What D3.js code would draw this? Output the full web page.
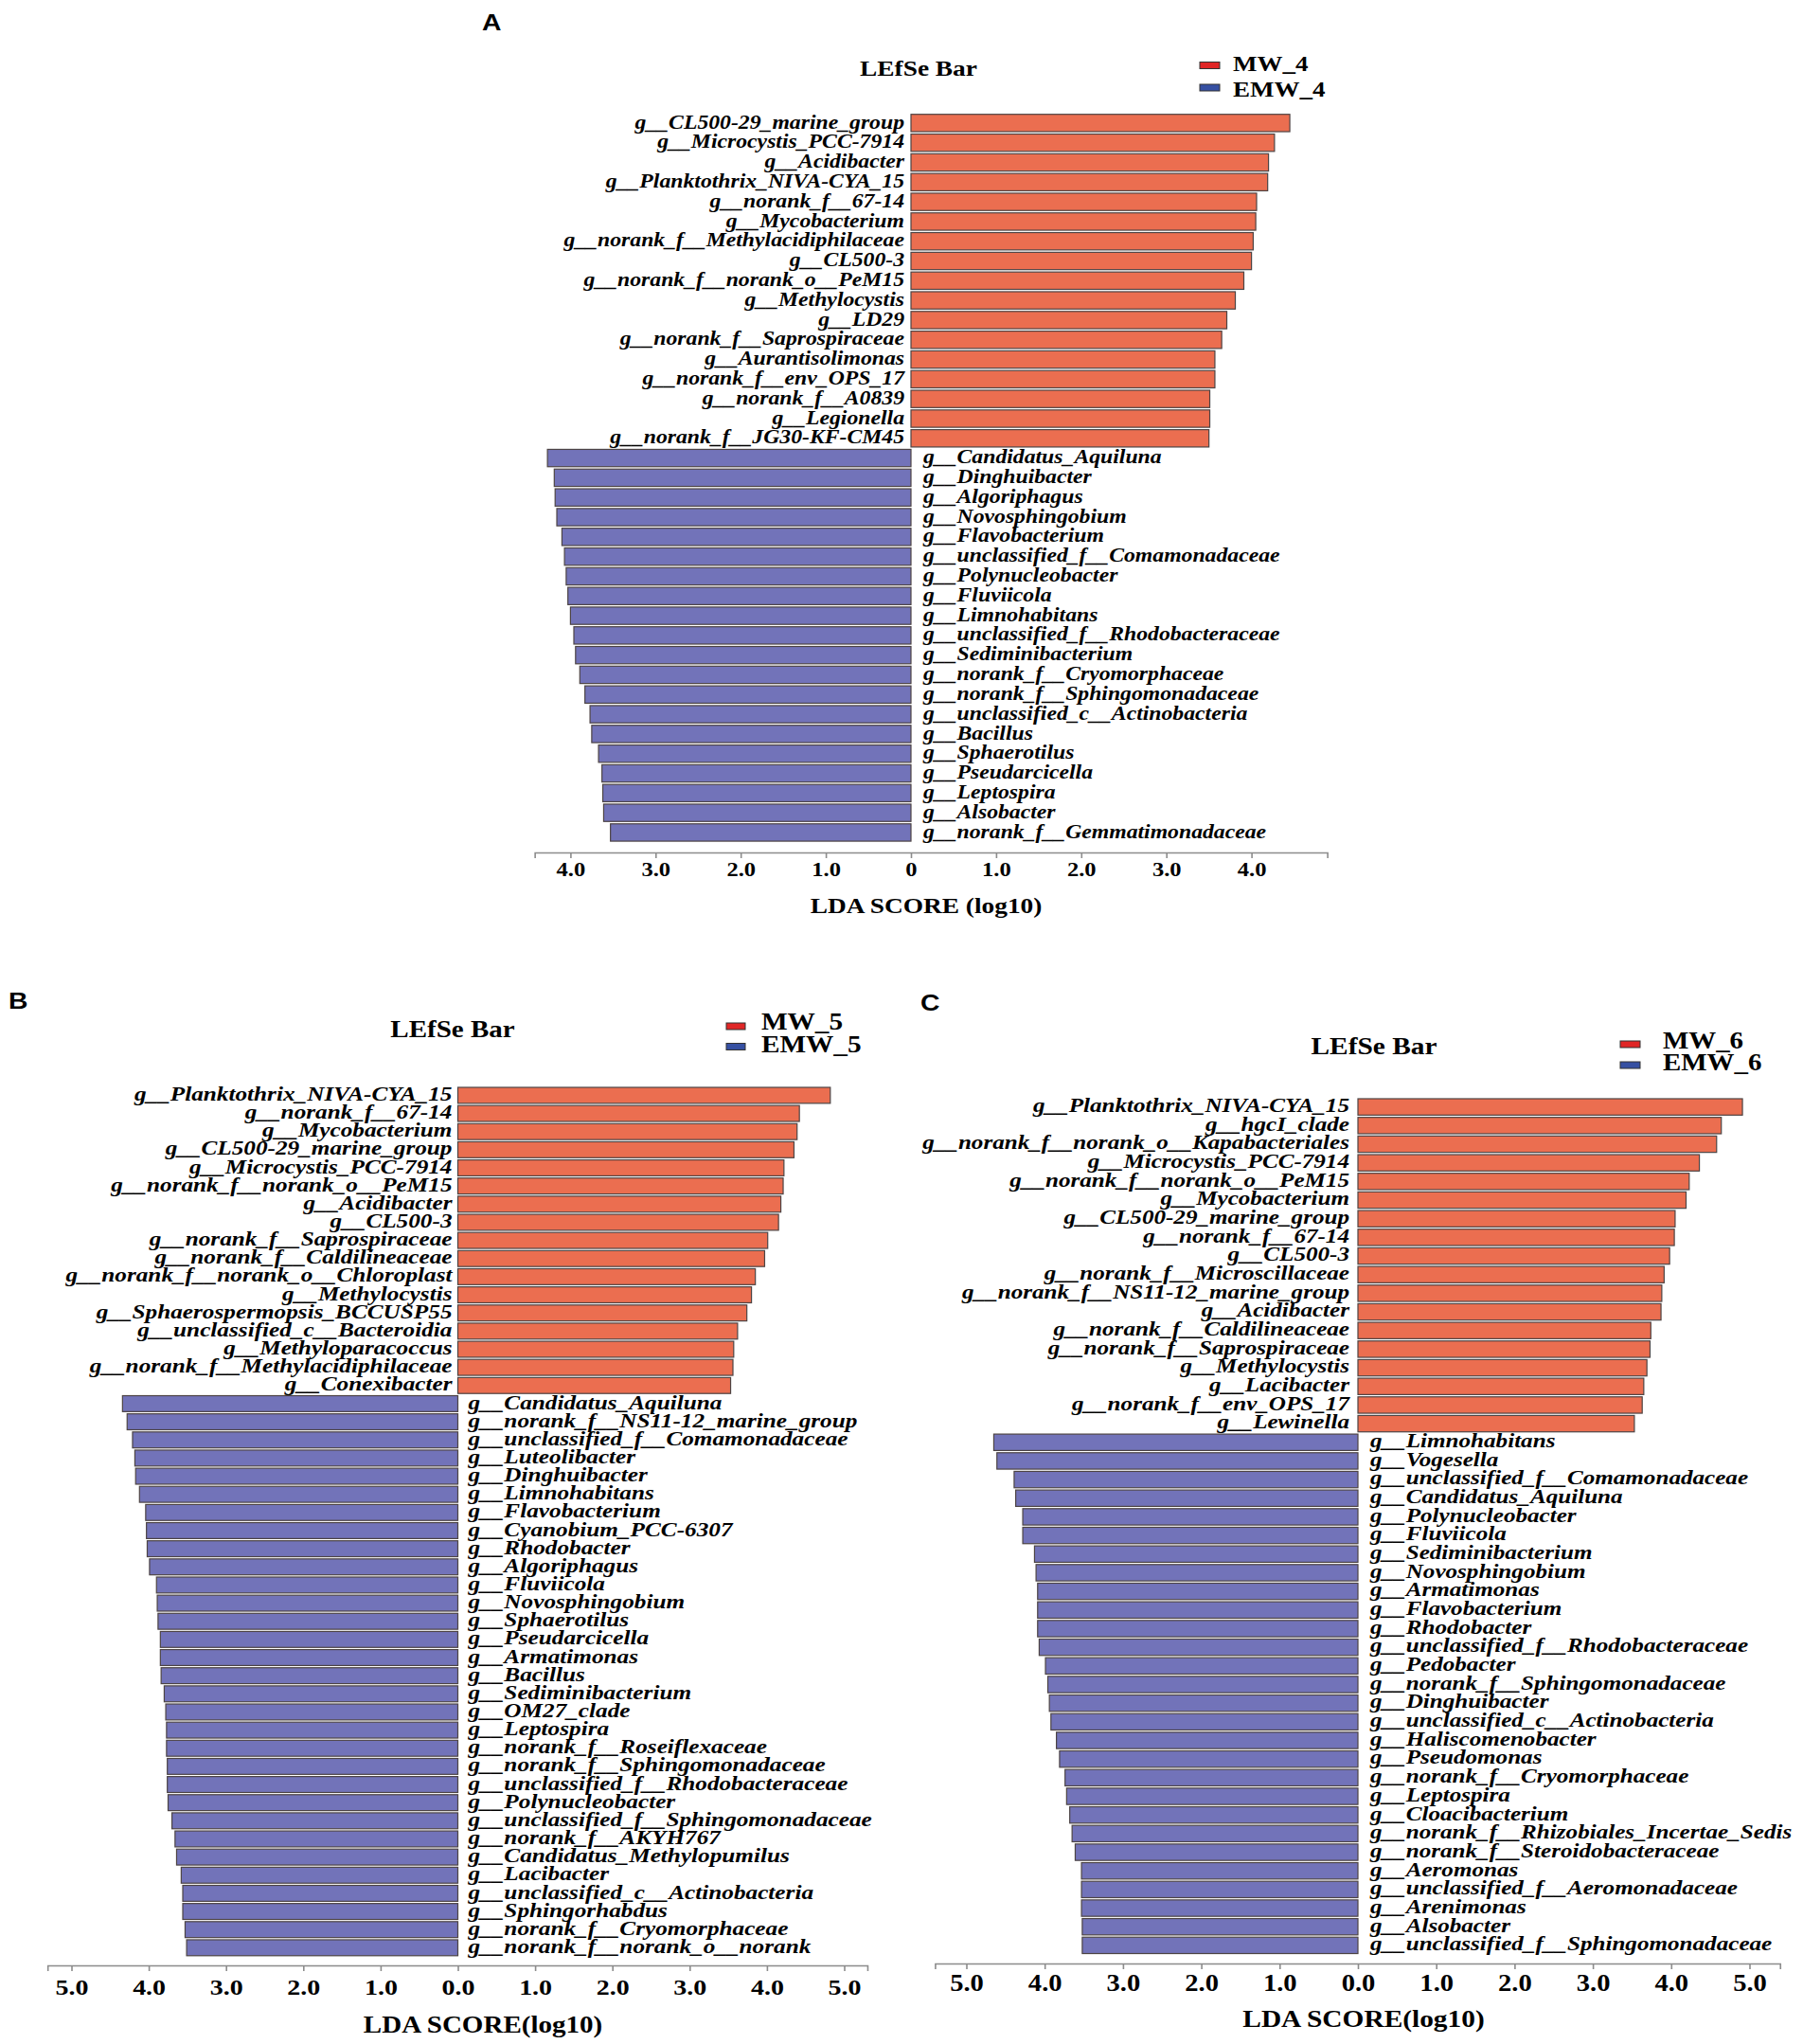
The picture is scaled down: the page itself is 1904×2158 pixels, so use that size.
<!DOCTYPE html>
<html>
<head>
<meta charset="utf-8">
<script src="https://cdn.jsdelivr.net/npm/d3@7"></script>
<style>
  body { margin: 0; background: #fff; }
  svg { display: block; }
</style>
</head>
<body>
<div id="chart"></div>
<script>
// ---- data: LDA scores ----
var aMwTaxa = ["g__CL500-29_marine_group", "g__Microcystis_PCC-7914", "g__Acidibacter", "g__Planktothrix_NIVA-CYA_15",
  "g__norank_f__67-14", "g__Mycobacterium", "g__norank_f__Methylacidiphilaceae", "g__CL500-3",
  "g__norank_f__norank_o__PeM15", "g__Methylocystis", "g__LD29", "g__norank_f__Saprospiraceae",
  "g__Aurantisolimonas", "g__norank_f__env_OPS_17", "g__norank_f__A0839", "g__Legionella", "g__norank_f__JG30-KF-CM45"]
var aMwLda = [4.45, 4.27, 4.20, 4.19, 4.06, 4.05, 4.02, 4.00, 3.91, 3.81, 3.71, 3.65, 3.57, 3.57, 3.51, 3.51, 3.50]
var aEmwTaxa = ["g__Candidatus_Aquiluna", "g__Dinghuibacter", "g__Algoriphagus", "g__Novosphingobium", "g__Flavobacterium",
  "g__unclassified_f__Comamonadaceae", "g__Polynucleobacter", "g__Fluviicola", "g__Limnohabitans",
  "g__unclassified_f__Rhodobacteraceae", "g__Sediminibacterium", "g__norank_f__Cryomorphaceae",
  "g__norank_f__Sphingomonadaceae", "g__unclassified_c__Actinobacteria", "g__Bacillus", "g__Sphaerotilus",
  "g__Pseudarcicella", "g__Leptospira", "g__Alsobacter", "g__norank_f__Gemmatimonadaceae"]
var aEmwLda = [4.27, 4.19, 4.18, 4.16, 4.10, 4.07, 4.05, 4.03, 4.00, 3.96, 3.94, 3.89, 3.83, 3.77, 3.75, 3.67, 3.63, 3.62, 3.61, 3.53]

var bMwTaxa = ["g__Planktothrix_NIVA-CYA_15", "g__norank_f__67-14", "g__Mycobacterium", "g__CL500-29_marine_group",
  "g__Microcystis_PCC-7914", "g__norank_f__norank_o__PeM15", "g__Acidibacter", "g__CL500-3",
  "g__norank_f__Saprospiraceae", "g__norank_f__Caldilineaceae", "g__norank_f__norank_o__Chloroplast",
  "g__Methylocystis", "g__Sphaerospermopsis_BCCUSP55", "g__unclassified_c__Bacteroidia",
  "g__Methyloparacoccus", "g__norank_f__Methylacidiphilaceae", "g__Conexibacter"]
var bMwLda = [4.82, 4.42, 4.39, 4.35, 4.22, 4.21, 4.18, 4.15, 4.01, 3.97, 3.85, 3.80, 3.74, 3.62, 3.57, 3.56, 3.53]
var bEmwTaxa = ["g__Candidatus_Aquiluna", "g__norank_f__NS11-12_marine_group", "g__unclassified_f__Comamonadaceae",
  "g__Luteolibacter", "g__Dinghuibacter", "g__Limnohabitans", "g__Flavobacterium", "g__Cyanobium_PCC-6307",
  "g__Rhodobacter", "g__Algoriphagus", "g__Fluviicola", "g__Novosphingobium", "g__Sphaerotilus",
  "g__Pseudarcicella", "g__Armatimonas", "g__Bacillus", "g__Sediminibacterium", "g__OM27_clade",
  "g__Leptospira", "g__norank_f__Roseiflexaceae", "g__norank_f__Sphingomonadaceae",
  "g__unclassified_f__Rhodobacteraceae", "g__Polynucleobacter", "g__unclassified_f__Sphingomonadaceae",
  "g__norank_f__AKYH767", "g__Candidatus_Methylopumilus", "g__Lacibacter", "g__unclassified_c__Actinobacteria",
  "g__Sphingorhabdus", "g__norank_f__Cryomorphaceae", "g__norank_f__norank_o__norank"]
var bEmwLda = [4.34, 4.28, 4.21, 4.18, 4.17, 4.12, 4.04, 4.03, 4.02, 3.99, 3.90, 3.89, 3.88, 3.85, 3.85, 3.84,
  3.80, 3.78, 3.77, 3.77, 3.76, 3.76, 3.75, 3.70, 3.66, 3.64, 3.58, 3.56, 3.56, 3.53, 3.51]

var cMwTaxa = ["g__Planktothrix_NIVA-CYA_15", "g__hgcI_clade", "g__norank_f__norank_o__Kapabacteriales",
  "g__Microcystis_PCC-7914", "g__norank_f__norank_o__PeM15", "g__Mycobacterium", "g__CL500-29_marine_group",
  "g__norank_f__67-14", "g__CL500-3", "g__norank_f__Microscillaceae", "g__norank_f__NS11-12_marine_group",
  "g__Acidibacter", "g__norank_f__Caldilineaceae", "g__norank_f__Saprospiraceae", "g__Methylocystis",
  "g__Lacibacter", "g__norank_f__env_OPS_17", "g__Lewinella"]
var cMwLda = [4.91, 4.64, 4.58, 4.36, 4.23, 4.19, 4.05, 4.04, 3.98, 3.91, 3.88, 3.87, 3.74, 3.73, 3.69, 3.65, 3.63, 3.53]
var cEmwTaxa = ["g__Limnohabitans", "g__Vogesella", "g__unclassified_f__Comamonadaceae", "g__Candidatus_Aquiluna",
  "g__Polynucleobacter", "g__Fluviicola", "g__Sediminibacterium", "g__Novosphingobium", "g__Armatimonas",
  "g__Flavobacterium", "g__Rhodobacter", "g__unclassified_f__Rhodobacteraceae", "g__Pedobacter",
  "g__norank_f__Sphingomonadaceae", "g__Dinghuibacter", "g__unclassified_c__Actinobacteria",
  "g__Haliscomenobacter", "g__Pseudomonas", "g__norank_f__Cryomorphaceae", "g__Leptospira",
  "g__Cloacibacterium", "g__norank_f__Rhizobiales_Incertae_Sedis", "g__norank_f__Steroidobacteraceae",
  "g__Aeromonas", "g__unclassified_f__Aeromonadaceae", "g__Arenimonas", "g__Alsobacter",
  "g__unclassified_f__Sphingomonadaceae"]
var cEmwLda = [4.65, 4.61, 4.39, 4.37, 4.28, 4.28, 4.13, 4.11, 4.09, 4.09, 4.09, 4.07, 3.99, 3.96, 3.94, 3.92,
  3.85, 3.81, 3.74, 3.72, 3.68, 3.65, 3.61, 3.53, 3.53, 3.53, 3.52, 3.52]

var aTicks = [-4, -3, -2, -1, 0, 1, 2, 3, 4]
var bcTicks = [-5, -4, -3, -2, -1, 0, 1, 2, 3, 4, 5]

var color = { MW: "#eb6e50", EMW: "#7273b9" }
var legendColor = { MW: "#e02626", EMW: "#3650a2" }
var SERIF = "'Liberation Serif', 'Times New Roman', serif"
var SX = 1.18  // the original figure is a bit wider than Times

var W = 1904, H = 2158
var svg = d3.select("#chart").append("svg")
  .attr("width", W)
  .attr("height", H)
  .style("background", "#fff")

// text helper: glyphs widened horizontally like the source
function stext(g, x, y, str, size, opts) {
  opts = opts || {}
  return g.append("text")
    .attr("transform", "translate(" + x + "," + y + ") scale(" + SX + ",1)")
    .attr("text-anchor", opts.anchor || "start")
    .style("font-family", opts.family || SERIF)
    .style("font-weight", "bold")
    .style("font-style", opts.italic ? "italic" : "normal")
    .style("font-size", size + "px")
    .style("fill", "#000")
    .text(str)
}

function drawPanel(cfg, mwTaxa, mwLda, emwTaxa, emwLda, ticks) {
  var g = svg.append("g")

  var rows = []
  mwTaxa.forEach(function (t, i) { rows.push({ name: t, value: mwLda[i], grp: "MW" }) })
  emwTaxa.forEach(function (t, i) { rows.push({ name: t, value: emwLda[i], grp: "EMW" }) })

  var x = d3.scaleLinear()
    .domain([-cfg.axL, cfg.axR])
    .range([cfg.zero - cfg.axL * cfg.unit, cfg.zero + cfg.axR * cfg.unit])

  var y = d3.scaleBand()
    .domain(d3.range(rows.length))
    .range([cfg.top, cfg.top + rows.length * cfg.pitch])
    .paddingInner(0.12)
    .paddingOuter(0)

  // bars: MW to the right, EMW to the left
  g.selectAll(".bar").data(rows).enter().append("rect")
    .attr("class", "bar")
    .attr("x", function (d) { return d.grp == "MW" ? x(0) : x(-d.value) })
    .attr("y", function (d, i) { return y(i) })
    .attr("width", function (d) { return x(d.value) - x(0) })
    .attr("height", y.bandwidth())
    .attr("fill", function (d) { return color[d.grp] })
    .attr("stroke", "#4d4444")
    .attr("stroke-width", 1.2)

  rows.forEach(function (d, i) {
    if (d.grp == "MW") {
      stext(g, x(0) - cfg.padL, y(i) + cfg.base, d.name, cfg.label, { anchor: "end", italic: true })
    } else {
      stext(g, x(0) + cfg.padR, y(i) + cfg.base, d.name, cfg.label, { italic: true })
    }
  })

  // axis
  var ax = g.append("g")
    .attr("transform", "translate(0," + cfg.axisY + ")")
    .call(d3.axisBottom(x).tickValues(ticks).tickSize(6).tickSizeOuter(6)
      .tickFormat(function (v) { return v == 0 ? cfg.zeroLabel : Math.abs(v).toFixed(1) }))
  ax.select(".domain").attr("stroke", "#8c8c8c").attr("stroke-width", 1.6)
  ax.selectAll(".tick line").attr("stroke", "#8c8c8c").attr("stroke-width", 1.6)
  ax.selectAll(".tick text")
    .attr("y", cfg.tickOff)
    .attr("dy", 0)
    .attr("transform", "scale(" + SX + ",1)")
    .style("font-family", SERIF)
    .style("font-weight", "bold")
    .style("font-size", cfg.tick + "px")
    .style("fill", "#000")

  stext(g, cfg.ldaX, cfg.ldaY, cfg.ldaText, cfg.lda, { anchor: "middle" })

  // title and legend
  stext(g, cfg.titleX, cfg.titleY, "LEfSe Bar", cfg.title, { anchor: "middle" })
  var legend = [cfg.mwName, cfg.emwName]
  legend.forEach(function (name, i) {
    var key = i == 0 ? "MW" : "EMW"
    g.append("rect")
      .attr("x", cfg.legX)
      .attr("y", cfg.legY[i])
      .attr("width", cfg.legW)
      .attr("height", 7)
      .attr("fill", legendColor[key])
      .attr("stroke", "#333")
      .attr("stroke-width", 1)
    stext(g, cfg.legTextX, cfg.legBase[i], name, cfg.leg)
  })

  stext(g, cfg.letterX, cfg.letterY, cfg.letter, 24, { family: "'Liberation Sans', Arial, sans-serif" })
}

drawPanel({
  letter: "A", letterX: 509, letterY: 32,
  zero: 962, unit: 89.9, axL: 4.42, axR: 4.89,
  top: 120.7, pitch: 20.74, base: 14.8,
  label: 20.1, padL: 7, padR: 13,
  axisY: 900, tick: 20.8, tickOff: 25, zeroLabel: "0",
  lda: 23.2, ldaX: 978, ldaY: 963.5, ldaText: "LDA SCORE (log10)",
  title: 23.2, titleX: 970, titleY: 80,
  mwName: "MW_4", emwName: "EMW_4",
  legX: 1267, legW: 21, legY: [65.5, 89], legTextX: 1302, legBase: [75, 101.5], leg: 22.9
}, aMwTaxa, aMwLda, aEmwTaxa, aEmwLda, aTicks)

drawPanel({
  letter: "B", letterX: 9, letterY: 1065,
  zero: 483.5, unit: 81.6, axL: 5.31, axR: 5.30,
  top: 1148, pitch: 19.1, base: 14,
  label: 21.4, padL: 6, padR: 11,
  axisY: 2075, tick: 23.7, tickOff: 31.5, zeroLabel: "0.0",
  lda: 24.6, ldaX: 510, ldaY: 2145.5, ldaText: "LDA SCORE(log10)",
  title: 24.6, titleX: 478, titleY: 1095,
  mwName: "MW_5", emwName: "EMW_5",
  legX: 767, legW: 20, legY: [1080, 1101.5], legTextX: 804, legBase: [1087, 1111], leg: 24.8
}, bMwTaxa, bMwLda, bEmwTaxa, bEmwLda, bcTicks)

drawPanel({
  letter: "C", letterX: 972, letterY: 1067,
  zero: 1434, unit: 82.7, axL: 5.40, axR: 5.39,
  top: 1160, pitch: 19.62, base: 14,
  label: 21.3, padL: 9, padR: 13,
  axisY: 2073, tick: 24.2, tickOff: 28.7, zeroLabel: "0.0",
  lda: 24.9, ldaX: 1440, ldaY: 2140, ldaText: "LDA SCORE(log10)",
  title: 24.9, titleX: 1451, titleY: 1113,
  mwName: "MW_6", emwName: "EMW_6",
  legX: 1711, legW: 21, legY: [1099, 1121], legTextX: 1756, legBase: [1107, 1130], leg: 24.5
}, cMwTaxa, cMwLda, cEmwTaxa, cEmwLda, bcTicks)
</script>
</body>
</html>
